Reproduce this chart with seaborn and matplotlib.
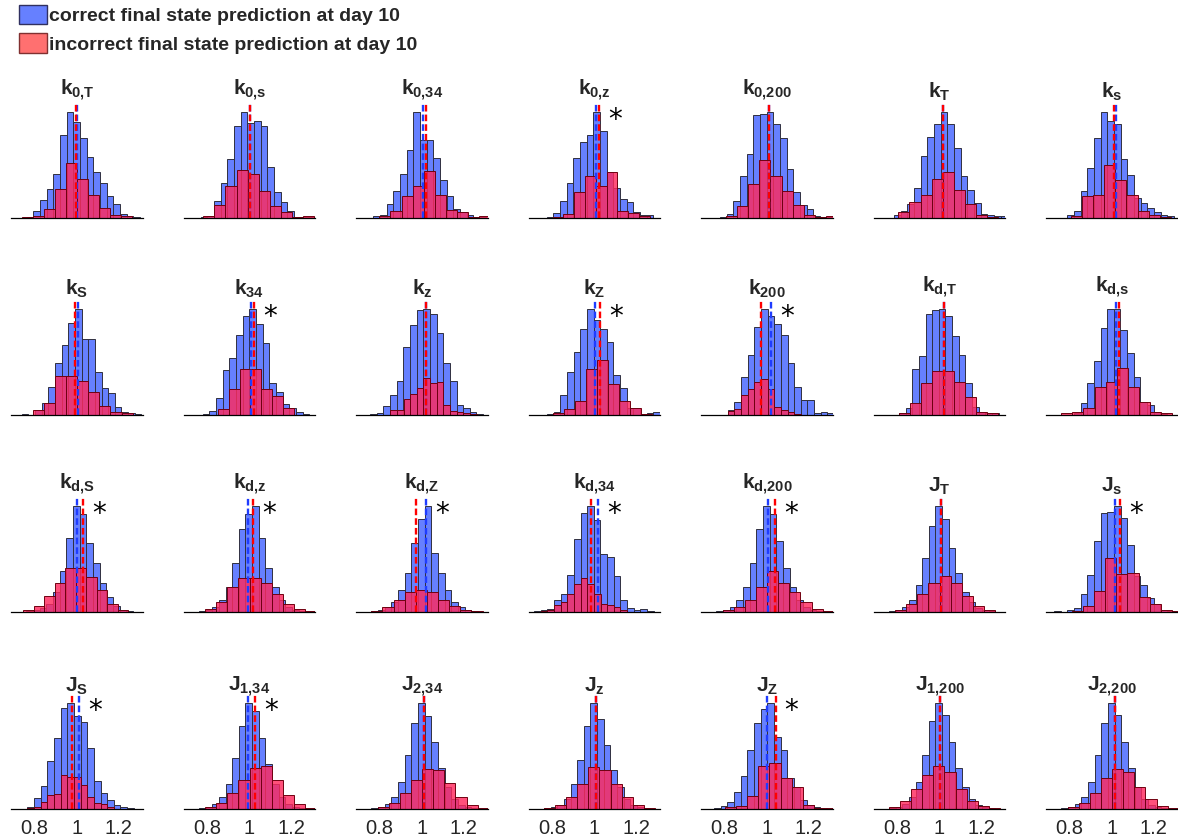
import numpy as np
import pandas as pd
import matplotlib
matplotlib.use("Agg")
import matplotlib.pyplot as plt
import seaborn as sns
from matplotlib.patches import Patch

# parameter names (4 rows x 7 cols)
names = [r"k_{0{,}T}", r"k_{0{,}s}", r"k_{0{,}34}", r"k_{0{,}z}", r"k_{0{,}200}", r"k_T", r"k_s",
         r"k_S", r"k_{34}", r"k_z", r"k_Z", r"k_{200}", r"k_{d{,}T}", r"k_{d{,}s}",
         r"k_{d{,}S}", r"k_{d{,}z}", r"k_{d{,}Z}", r"k_{d{,}34}", r"k_{d{,}200}", r"J_T", r"J_s",
         r"J_S", r"J_{1{,}34}", r"J_{2{,}34}", r"J_z", r"J_Z", r"J_{1{,}200}", r"J_{2{,}200}"]

# significant difference between groups
significant = [0, 0, 0, 1, 0, 0, 0,
               0, 1, 0, 1, 1, 0, 0,
               1, 1, 1, 1, 1, 0, 1,
               1, 1, 0, 0, 1, 0, 0]

# correct predictions: left edge of first bin, counts (bin width 0.0317)
blue_width = 0.0317
blue_lo = [0.762, 0.769, 0.770, 0.774, 0.778, 0.785, 0.789,
           0.738, 0.779, 0.754, 0.775, 0.814, 0.808, 0.820,
           0.697, 0.697, 0.697, 0.713, 0.697, 0.697, 0.725,
           0.765, 0.697, 0.697, 0.697, 0.749, 0.697, 0.697]
blue_counts = [
    [1, 7, 18, 29, 44, 83, 106, 96, 80, 61, 46, 35, 22, 14, 4, 2, 1],
    [1, 2, 17, 35, 59, 92, 106, 95, 97, 92, 51, 26, 16, 7, 1, 1, 1],
    [2, 3, 14, 27, 44, 68, 106, 78, 78, 60, 38, 22, 9, 6, 3, 1, 1],
    [1, 5, 17, 35, 61, 77, 84, 107, 88, 46, 30, 19, 16, 6, 3, 3],
    [1, 4, 17, 43, 65, 105, 106, 108, 96, 82, 50, 27, 13, 9, 2, 1, 1],
    [3, 7, 14, 30, 63, 82, 95, 107, 95, 71, 42, 28, 15, 4, 3, 2, 2],
    [3, 7, 27, 50, 80, 106, 97, 94, 59, 43, 20, 15, 10, 6, 3, 2],
    [1, 0, 5, 12, 28, 53, 71, 93, 107, 77, 77, 43, 27, 22, 8, 3, 2, 1],
    [1, 4, 17, 45, 58, 81, 100, 107, 92, 73, 32, 23, 11, 7, 3, 1],
    [1, 2, 9, 20, 34, 69, 91, 106, 107, 102, 83, 52, 34, 10, 7, 3, 1, 0, 1],
    [1, 3, 20, 43, 63, 86, 106, 95, 86, 73, 40, 27, 7, 7, 1, 2, 3],
    [5, 13, 37, 58, 86, 103, 96, 88, 78, 51, 27, 15, 15, 2, 3, 2],
    [2, 7, 46, 60, 102, 106, 107, 100, 80, 61, 32, 8, 3, 2, 2],
    [2, 12, 32, 54, 87, 106, 106, 85, 62, 38, 13, 10, 3, 1],
    [0, 0, 1, 2, 4, 8, 20, 42, 75, 108, 100, 70, 50, 30, 15, 6, 2, 1, 0],
    [0, 0, 1, 2, 5, 12, 25, 50, 85, 100, 108, 75, 45, 25, 12, 5, 2, 1, 0],
    [0, 0, 1, 2, 5, 10, 22, 40, 70, 95, 108, 60, 40, 22, 10, 5, 2, 1, 0],
    [1, 2, 3, 12, 18, 37, 72, 98, 105, 91, 57, 54, 36, 12, 4, 2, 3, 1],
    [0, 0, 1, 2, 5, 12, 25, 50, 85, 108, 100, 72, 45, 25, 12, 5, 2, 1, 0],
    [0, 0, 1, 2, 5, 12, 28, 55, 88, 108, 95, 65, 40, 20, 10, 4, 2, 1, 0],
    [1, 0, 2, 4, 18, 37, 71, 99, 100, 106, 94, 67, 36, 27, 14, 8, 2, 1],
    [2, 11, 23, 48, 72, 102, 107, 94, 88, 62, 28, 16, 9, 4, 2, 1],
    [0, 0, 1, 2, 5, 12, 25, 52, 85, 108, 100, 72, 46, 25, 12, 5, 2, 1, 0],
    [0, 0, 1, 2, 5, 12, 28, 55, 88, 108, 95, 68, 42, 22, 10, 4, 2, 1, 0],
    [0, 0, 1, 2, 4, 10, 25, 50, 85, 108, 92, 65, 40, 22, 10, 4, 2, 1, 0],
    [1, 3, 7, 17, 33, 59, 86, 100, 106, 72, 59, 31, 22, 9, 4, 2, 1],
    [0, 0, 1, 2, 5, 12, 28, 55, 90, 108, 96, 68, 42, 22, 10, 4, 2, 1, 0],
    [0, 0, 1, 2, 5, 12, 28, 55, 88, 108, 96, 68, 42, 22, 10, 4, 2, 1, 0],
]

# incorrect predictions: left edge of first bin, bin width, counts
red_lo = [0.741, 0.781, 0.798, 0.802, 0.806, 0.805, 0.805,
          0.790, 0.850, 0.850, 0.802, 0.814, 0.808, 0.760,
          0.745, 0.790, 0.760, 0.745, 0.790, 0.790, 0.810,
          0.765, 0.790, 0.790, 0.760, 0.801, 0.760, 0.790]
red_width = [0.0523, 0.053, 0.053, 0.0515, 0.053, 0.053, 0.053,
             0.053, 0.052, 0.0317, 0.0527, 0.0317, 0.0527, 0.0527,
             0.05, 0.053, 0.053, 0.0317, 0.053, 0.053, 0.053,
             0.0317, 0.053, 0.053, 0.053, 0.053, 0.053, 0.053]
red_counts = [
    [1, 2, 9, 29, 55, 39, 23, 10, 3, 2],
    [2, 13, 32, 48, 44, 27, 12, 6, 1, 2],
    [2, 7, 22, 32, 47, 23, 8, 6, 1, 2],
    [1, 4, 26, 42, 32, 46, 7, 5, 2],
    [2, 12, 35, 59, 43, 28, 13, 3, 1, 2],
    [6, 16, 23, 39, 46, 28, 14, 3, 1],
    [2, 22, 23, 53, 38, 23, 7, 3, 1],
    [5, 12, 39, 39, 34, 23, 9, 3, 2],
    [6, 26, 46, 46, 26, 19, 7],
    [5, 5, 16, 21, 27, 37, 32, 33, 10, 4, 3, 2, 1],
    [2, 6, 14, 46, 55, 31, 14, 7, 1],
    [4, 6, 19, 25, 32, 35, 25, 8, 5, 3, 1],
    [2, 12, 32, 44, 44, 33, 18, 3, 2],
    [2, 3, 7, 28, 33, 47, 28, 13, 3, 2],
    [2, 6, 16, 30, 45, 45, 36, 22, 8, 2],
    [3, 10, 25, 35, 35, 30, 18, 8, 3, 1],
    [1, 5, 12, 20, 22, 20, 12, 6, 2, 1],
    [1, 2, 7, 10, 18, 28, 34, 28, 18, 8, 7, 5, 2],
    [2, 5, 12, 25, 42, 30, 20, 10, 3, 1],
    [2, 8, 18, 30, 37, 30, 16, 6, 2],
    [1, 6, 21, 54, 38, 39, 15, 8, 2, 1],
    [1, 2, 7, 14, 15, 34, 32, 32, 24, 12, 6, 5, 2],
    [2, 6, 16, 30, 42, 44, 30, 14, 5, 1],
    [2, 6, 16, 30, 41, 40, 26, 12, 4, 1],
    [1, 4, 12, 25, 43, 40, 25, 12, 4, 1],
    [2, 3, 13, 43, 46, 31, 22, 4, 1, 1],
    [2, 8, 20, 35, 44, 38, 20, 8, 3, 1],
    [2, 6, 16, 32, 41, 38, 22, 10, 3, 1],
]

# group means (dashed lines)
mean_correct = [1.003, 1.004, 1.005, 1.009, 1.011, 1.017, 1.020,
                1.008, 1.008, 1.020, 1.002, 1.020, 1.022, 1.020,
                1.000, 0.995, 1.020, 1.020, 1.005, 1.010, 1.016,
                1.011, 0.995, 1.010, 1.010, 1.003, 1.005, 1.015]
mean_incorrect = [0.995, 1.004, 1.020, 1.024, 1.011, 1.017, 1.011,
                  0.994, 1.025, 1.020, 1.030, 0.974, 1.022, 1.034,
                  1.030, 1.020, 0.975, 0.983, 1.040, 1.010, 1.040,
                  0.976, 1.030, 1.010, 1.010, 1.043, 1.005, 1.015]

xticks = [0.8, 1, 1.2]
xticklabels = ["0.8", "1", "1.2"]

sns.set_theme(style="white")
plt.rcParams['font.family'] = ['Liberation Sans', 'DejaVu Sans']
plt.rcParams['mathtext.fontset'] = 'custom'
plt.rcParams['mathtext.rm'] = 'Liberation Sans'
plt.rcParams['mathtext.bf'] = 'Liberation Sans:bold'
plt.rcParams['mathtext.it'] = 'Liberation Sans:italic'

BLUE = '#6680ff'
RED = '#ff2a5e'
BLUE_LINE = '#1f3cff'
RED_LINE = '#ff0000'

fig, axes = plt.subplots(4, 7, figsize=(11.78, 8.39), dpi=100)
fig.subplots_adjust(left=11 / 1178, right=1.0, bottom=30 / 839, top=736 / 839,
                    wspace=0.307, hspace=0.713)

for i, ax in enumerate(axes.flat):
    b = blue_counts[i]
    r = red_counts[i]
    be = [float(v) for v in blue_lo[i] + blue_width * np.arange(len(b) + 1)]
    re_ = [float(v) for v in red_lo[i] + red_width[i] * np.arange(len(r) + 1)]
    dfb = pd.DataFrame({'value': np.array(be[:-1]) + blue_width / 2, 'count': b})
    dfr = pd.DataFrame({'value': np.array(re_[:-1]) + red_width[i] / 2, 'count': r})
    sns.histplot(data=dfb, x='value', weights='count', bins=be, ax=ax,
                 color=BLUE, edgecolor='#303040', alpha=1.0, linewidth=0.7)
    sns.histplot(data=dfr, x='value', weights='count', bins=re_, ax=ax,
                 color=RED, edgecolor='#700010', alpha=0.82, linewidth=0.7)
    top = max(max(b), max(r)) * 1.085
    ax.set_ylim(0, top)
    ax.set_xlim(0.687, 1.316)
    ax.axvline(mean_correct[i], color=BLUE_LINE, lw=1.7, ls='--', dashes=(2.8, 1.3))
    ax.axvline(mean_incorrect[i], color=RED_LINE, lw=1.7, ls='--', dashes=(2.8, 1.3))
    if significant[i]:
        ax.text(max(mean_correct[i], mean_incorrect[i]) + 0.075, top * 0.85, '*',
                fontsize=20, ha='center', va='center', color='black',
                family='DejaVu Sans')
    ax.set_title(r'$\mathbf{' + names[i] + '}$', fontsize=15, pad=2)
    ax.set_xlabel('')
    ax.set_ylabel('')
    ax.set_yticks([])
    for s in ['top', 'right', 'left']:
        ax.spines[s].set_visible(False)
    ax.spines['bottom'].set_color('black')
    ax.spines['bottom'].set_linewidth(0.9)
    ax.set_xticks(xticks)
    ax.tick_params(axis='x', length=0, pad=7, labelsize=14.5, colors='#262626')
    if i >= 21:
        ax.set_xticklabels(xticklabels)
    else:
        ax.set_xticklabels([])

handles = [Patch(facecolor=BLUE, edgecolor='#303060'),
           Patch(facecolor='#ff7070', edgecolor='#803030')]
fig.legend(handles, ['correct final state prediction at day 10',
                     'incorrect final state prediction at day 10'],
           loc='upper left', bbox_to_anchor=(0.016, 0.994), frameon=False,
           prop={'weight': 'bold', 'size': 14}, handlelength=1.45,
           handleheight=1.15, handletextpad=0.12, labelspacing=0.42,
           borderaxespad=0, borderpad=0)

fig.savefig('out.png', dpi=100)
